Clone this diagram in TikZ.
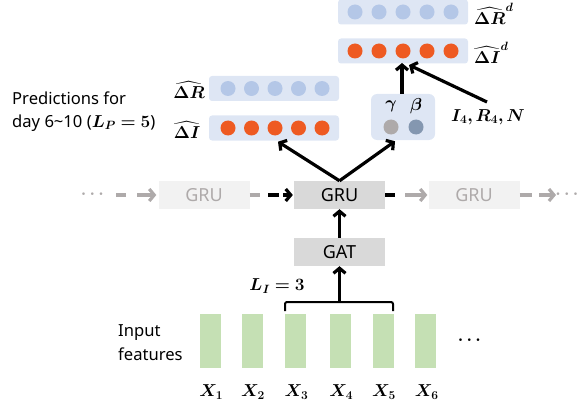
\documentclass[tikz,border=0pt]{standalone}
\usepackage{amsmath,bm}
\usepackage{fontspec}
\setmainfont{Noto Sans}
\usetikzlibrary{arrows.meta,calc}
\definecolor{boxblue}{HTML}{DEE6F4}
\definecolor{dotblue}{HTML}{B4C7E7}
\definecolor{dotorange}{HTML}{EE5A22}
\definecolor{dotgray}{HTML}{AEAAAA}
\definecolor{dotslate}{HTML}{8497B0}
\definecolor{barsgreen}{HTML}{C5E0B4}
\definecolor{grucol}{HTML}{D9D9D9}
\definecolor{grulight}{HTML}{F2F2F2}
\definecolor{fadegray}{HTML}{AEAAAA}
\tikzset{
  bluebox/.style={fill=boxblue, draw=none, rounded corners=3pt, minimum width=130pt, minimum height=25pt, inner sep=0pt},
  dotnode/.style={circle, minimum size=15pt, inner sep=0pt, draw=none},
  grubox/.style={fill=grucol, draw=none, minimum width=91pt, minimum height=28pt, inner sep=0pt, font=\fontsize{18}{20}\selectfont},
  gruside/.style={fill=grulight, draw=none, minimum width=91pt, minimum height=28pt, inner sep=0pt, text=fadegray, font=\fontsize{18}{20}\selectfont},
  barnode/.style={fill=barsgreen, draw=none, minimum width=21pt, minimum height=54pt, inner sep=0pt},
  mathlbl/.style={inner sep=0pt, font=\fontsize{17}{20}\selectfont},
  txtlbl/.style={inner sep=0pt, anchor=west, font=\fontsize{16.6}{20}\selectfont},
  bigarrow/.style={line width=3.2pt, -{Straight Barb[length=5pt,width=12pt]}},
  seg/.style={line width=3.2pt},
  grayseg/.style={line width=3.2pt, fadegray},
  grayarrow/.style={line width=3.2pt, fadegray, -{Straight Barb[length=5pt,width=12pt]}}
}
\begin{document}
\begin{tikzpicture}[x=1pt,y=-1pt]
\useasboundingbox (0,0) rectangle (583,409);

% top-right prediction boxes
\node[bluebox] (rdbox) at (403,12) {};
\node[bluebox] (idbox) at (403,51) {};
\foreach \i/\x in {1/355,2/379,3/403,4/427,5/451}{
  \node[dotnode, fill=dotblue] (rd\i) at (\x,12) {};
  \node[dotnode, fill=dotorange] (id\i) at (\x,51) {};
}
\node[mathlbl, anchor=west] (rdlbl) at (474,14) {$\bm{\widehat{\Delta R}^{d}}$};
\node[mathlbl, anchor=west] (idlbl) at (474,53) {$\bm{\widehat{\Delta I}^{d}}$};

% left prediction boxes
\node[bluebox] (rbox) at (274,88.5) {};
\node[bluebox] (ibox) at (274,128) {};
\foreach \i/\x in {1/228,2/251.5,3/275,4/298.5,5/322}{
  \node[dotnode, fill=dotblue] (r\i) at (\x,88.5) {};
  \node[dotnode, fill=dotorange] (i\i) at (\x,128) {};
}
\node[mathlbl] (rlbl) at (189,90) {$\bm{\widehat{\Delta R}}$};
\node[mathlbl] (ilbl) at (187,130) {$\bm{\widehat{\Delta I}}$};

\node[txtlbl] (pred1) at (12,98) {Predictions for};
\node[txtlbl] (pred2) at (12,123) {day 6{\char"007E}10 ($\bm{L_P=5}$)};

% gamma beta box
\node[fill=boxblue, draw=none, rounded corners=6pt, minimum width=64pt, minimum height=46pt, inner sep=0pt] (gbox) at (403,117) {};
\node[mathlbl] (gam) at (391,106) {$\bm{\gamma}$};
\node[mathlbl] (bet) at (416,106) {$\bm{\beta}$};
\node[dotnode, fill=dotgray] (gdot) at (391,127) {};
\node[dotnode, fill=dotslate] (bdot) at (416,127) {};

\node[mathlbl] (irn) at (488,117) {$\bm{I_4,R_4,N}$};
\coordinate (irntop) at (487,102);
\coordinate (idtarget) at (409,65);
\coordinate (idtarget2) at (402,63);

\draw[bigarrow] (gbox.north -| idtarget2) -- (idtarget2);
\draw[bigarrow] (irntop) -- (idtarget);

% GRU row
\node[grubox] (gru) at (339.5,195) {GRU};
\node[gruside] (lgru) at (204,195) {GRU};
\node[gruside] (rgru) at (474,195) {GRU};
\node[grubox] (gat) at (339.5,252) {GAT};

\draw[bigarrow] (gru.north) -- ($(ibox.south)+(4,1)$);
\draw[bigarrow] (gru.north) -- ($(gbox.south)+(-8,1)$);
\draw[bigarrow] (gat.north) -- (gru.south);

% recurrent dashed connectors
\node[inner sep=0pt, text=fadegray, font=\fontsize{17}{18}\selectfont] (ldots) at (94,194) {$\bm{\cdots}$};
\node[inner sep=0pt, text=fadegray, font=\fontsize{17}{18}\selectfont, anchor=east] (rdots) at (582,194) {$\bm{\cdots}$};
\coordinate (la1) at (116,195); \coordinate (la2) at (126,195); \coordinate (la3) at (137,195);
\draw[grayseg] (la1) -- (la2);
\draw[grayarrow] (la3) -- ($(lgru.west)+(-2,0)$);
\coordinate (ma1) at (260,195); \coordinate (ma2) at (268,195); \coordinate (ma3) at (279,195); \coordinate (ma4) at (283,195);
\draw[grayseg] (lgru.east) -- (ma1);
\draw[seg] (ma2) -- (ma3);
\draw[bigarrow] (ma4) -- ($(gru.west)+(-1,0)$);
\coordinate (na1) at (395,195); \coordinate (na2) at (405,195);
\draw[seg] (gru.east) -- (na1);
\draw[grayarrow] (na2) -- ($(rgru.west)+(-1,0)$);
\coordinate (ra1) at (532,195); \coordinate (ra2) at (539,195);
\draw[grayseg] (rgru.east) -- (ra1);
\draw[grayarrow] (ra2) -- (556,195);

% input features
\foreach \i/\x in {1/210.3,2/252,3/295.5,4/340.3,5/383,6/425.7}{
  \node[barnode] (x\i) at (\x,341) {};
  \node[mathlbl] (xl\i) at (\x+1,392) {$\bm{X_{\i}}$};
}
\node[inner sep=0pt, font=\fontsize{17}{18}\selectfont] (bdots) at (471,340) {$\bm{\cdots}$};
\node[txtlbl] (inp1) at (118,333) {Input};
\node[txtlbl] (inp2) at (118,354) {features};

% brace
\coordinate (brtop) at (339.5,302);
\draw[line width=2pt, rounded corners=2pt] (285,311) -- (285,302) -- (393,302) -- (393,311);
\draw[bigarrow] (brtop) -- (gat.south);
\node[mathlbl] (li) at (277,286) {$\bm{L_I=3}$};
\end{tikzpicture}
\end{document}
